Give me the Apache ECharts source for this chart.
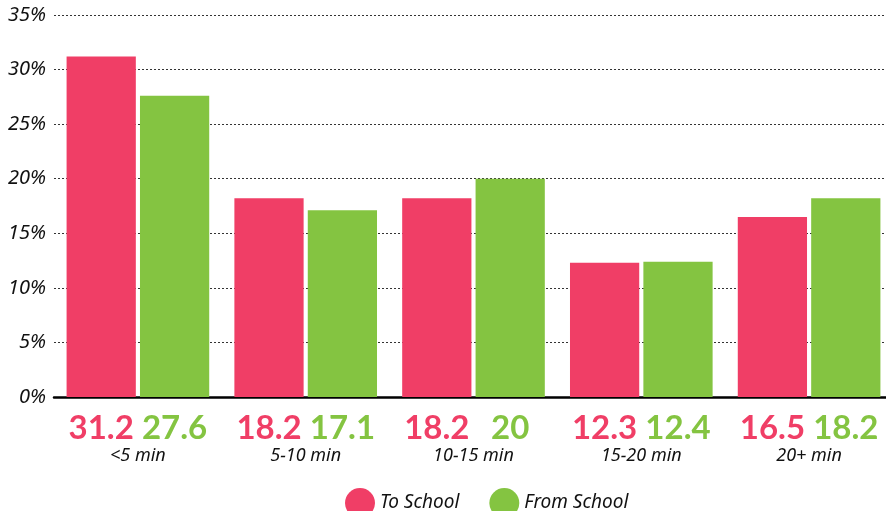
<!DOCTYPE html>
<html>
<head>
<meta charset="utf-8">
<script src="https://cdn.jsdelivr.net/npm/echarts@6/dist/echarts.min.js"></script>
<style>
html, body { margin: 0; padding: 0; background: #fff; }
#main { width: 886px; height: 511px; }
</style>
</head>
<body>
<div id="main"></div>
<script>
// travel time categories and shares (%)
var categories = ['<5 min', '5-10 min', '10-15 min', '15-20 min', '20+ min'];
var toSchool = [31.2, 18.2, 18.2, 12.3, 16.5];
var fromSchool = [27.6, 17.1, 20, 12.4, 18.2];
var seriesNames = ['To School', 'From School'];

var pink = '#f03e66';
var green = '#84c441';

function barLabel(color) {
    return {
        show: true,
        position: 'bottom',
        distance: 15,
        color: color,
        fontFamily: 'Lato',
        fontWeight: 'bold',
        fontSize: 33
    };
}

var option = {
    animation: false,
    textStyle: { fontFamily: 'Noto Sans' },
    grid: { left: 54, width: 839, top: 15, bottom: 114, outerBoundsMode: 'none' },
    legend: {
        data: seriesNames,
        left: 340,
        top: 483,
        icon: 'circle',
        itemWidth: 30,
        itemHeight: 30,
        itemGap: 30,
        textStyle: { fontSize: 19, fontStyle: 'italic', color: '#111', fontFamily: 'Noto Sans' }
    },
    xAxis: {
        type: 'category',
        data: categories,
        axisLine: { lineStyle: { color: '#000', width: 2.5 } },
        axisTick: { show: false },
        axisLabel: { margin: 50, fontSize: 18, fontStyle: 'italic', color: '#111', fontFamily: 'Noto Sans' }
    },
    yAxis: {
        type: 'value',
        min: 0,
        max: 35,
        interval: 5,
        axisLine: { show: false },
        axisTick: { show: false },
        axisLabel: { formatter: '{value}%', margin: 8, fontSize: 20, fontStyle: 'italic', color: '#111', fontFamily: 'Noto Sans' },
        splitLine: { lineStyle: { type: [2, 2], color: '#333', width: 1 } }
    },
    series: [
        {
            name: seriesNames[0],
            type: 'bar',
            data: toSchool,
            itemStyle: { color: pink },
            barGap: '6%',
            barCategoryGap: '15%',
            label: barLabel(pink)
        },
        {
            name: seriesNames[1],
            type: 'bar',
            data: fromSchool,
            itemStyle: { color: green },
            label: barLabel(green)
        }
    ]
};

var myChart = echarts.init(document.getElementById('main'));
myChart.setOption(option, true);
</script>
</body>
</html>
